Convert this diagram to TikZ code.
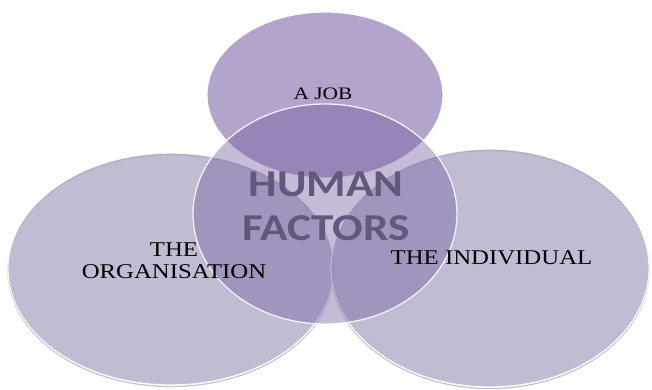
\documentclass[tikz,border=0pt]{standalone}
\usepackage{fontspec}
\setmainfont{Liberation Serif}
\newfontfamily\hffont{Carlito}
\usetikzlibrary{shapes.geometric}
\definecolor{sidefill}{RGB}{171,166,195}
\definecolor{topfill}{RGB}{152,134,184}
\definecolor{midfill}{RGB}{115,88,158}
\definecolor{hftext}{RGB}{85,88,100}
\definecolor{shadowc}{RGB}{120,115,140}
\newcommand{\widetext}[2]{\scalebox{#1}[1]{#2}}
\begin{document}
\begin{tikzpicture}[x=1pt,y=-1pt,
  disc/.style={ellipse,inner sep=0pt,draw=white,draw opacity=0.85,line width=1.3pt},
  sidedisc/.style={disc,fill=sidefill,fill opacity=0.75},
  topdisc/.style={disc,fill=topfill,fill opacity=0.75},
  middisc/.style={disc,fill=midfill,fill opacity=0.4},
  shade/.style={ellipse,inner sep=0pt,draw=shadowc,draw opacity=0.45,line width=1.2pt},
  label/.style={text=black,inner sep=0pt}]
\useasboundingbox (0,0) rectangle (652,390);
% soft shadows
\node[shade,minimum width=326pt,minimum height=232pt] (orgsh) at (171,270.5) {};
\node[shade,minimum width=318pt,minimum height=238pt] (indsh) at (490,269.5) {};
% discs
\node[sidedisc,minimum width=326pt,minimum height=232pt] (org) at (171,269) {};
\node[sidedisc,minimum width=318pt,minimum height=238pt] (ind) at (490,268) {};
\node[topdisc,minimum width=236pt,minimum height=166pt] (job) at (325,95) {};
% labels
\node[text=hftext,inner sep=0pt,align=center,font=\hffont\bfseries\fontsize{38}{44}\selectfont] (hf) at (326,206.5)
  {\widetext{1.19}{HUMAN}\\\widetext{1.19}{FACTORS}};
\node[middisc,minimum width=264pt,minimum height=220pt] (mid) at (325,214) {};
\node[label,anchor=base,font=\fontsize{17.5}{20}\selectfont] (jobt) at (323,100) {\widetext{1.22}{A JOB}};
\node[label,align=center,font=\fontsize{21}{22}\selectfont] (orgt) at (174,261)
  {\widetext{1.18}{THE}\\\widetext{1.18}{ORGANISATION}};
\node[label,anchor=base,font=\fontsize{21}{24}\selectfont] (indt) at (491.5,264) {\widetext{1.18}{THE INDIVIDUAL}};
\end{tikzpicture}
\end{document}
